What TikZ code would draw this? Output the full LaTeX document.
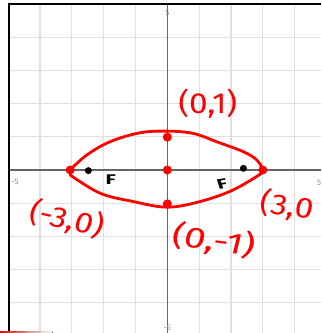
\documentclass[tikz,border=0pt]{standalone}
\usepackage{fontspec}
\setsansfont{Fira Sans}
\begin{document}
\begin{tikzpicture}[x=31.85pt, y=33.2pt,
    elGrid/.style={draw=black!12, line width=1.2pt},
    elAxis/.style={draw=black!60, line width=1.6pt},
    elFrame/.style={draw=black, line width=1.2pt},
    elTick/.style={text=black!45, font=\sffamily\fontsize{8}{8}\selectfont, inner sep=0pt},
    elCurve/.style={draw=red, line width=2.8pt, line cap=round, line join=round},
    elDot/.style={circle, fill=red, inner sep=0pt, minimum size=9pt},
    elFocus/.style={circle, fill=black, inner sep=0pt, minimum size=7pt},
    elLabel/.style={text=red, font=\sffamily\fontsize{29}{29}\selectfont, inner sep=0pt},
    elF/.style={text=black, font=\sffamily\bfseries\fontsize{14}{14}\selectfont, inner sep=0pt, xscale=1.5}]
    \useasboundingbox (-5.253,-4.910) rectangle (4.826,5.120);
    \clip (-5.253,-4.910) rectangle (4.826,5.120);

    % grid and axes
    \foreach \k in {-4,...,4} {
        \draw[elGrid] (\k,-4.91) -- (\k,5);
        \draw[elGrid] (-4.97,\k) -- (4.83,\k);
    }
    \draw[elAxis] (-4.97,0) -- (4.83,0);
    \draw[elAxis] (0,-4.91) -- (0,5);
    \draw[elFrame] (-4.97,-4.91) -- (-4.97,5) -- (4.83,5);
    \node[elTick] (tickTop) at (0,4.74) {5};
    \node[elTick] (tickLeft) at (-4.78,-0.36) {-5};
    \node[elTick] (tickRight) at (4.77,-0.39) {5};
    \node[elTick] (tickBottom) at (0,-4.76) {-5};

    % hand-drawn ellipse
    \draw[elCurve] plot[smooth, tension=0.6] coordinates {(-3.05,0) (-2.53,0.45) (-1.80,0.85) (-0.86,1.12) (0,1.17)
        (0.82,1.10) (1.55,0.85) (2.39,0.55) (2.81,0.30) (3.01,0)};
    \draw[elCurve] plot[smooth, tension=0.6] coordinates {(-3.05,-0.15) (-2.11,-0.70) (-1.07,-0.95) (0,-1.12)
        (1.03,-0.95) (2.07,-0.60) (2.96,-0.10)};

    \node[elDot] (vLeft) at (-3.05,0) {};
    \node[elDot] (vRight) at (3.0,0) {};
    \node[elDot] (cTop) at (0,0.99) {};
    \node[elDot] (center) at (0,0) {};
    \node[elDot] (cBottom) at (0,-1.02) {};
    \node[elFocus] (fLeft) at (-2.48,-0.02) {};
    \node[elFocus] (fRight) at (2.39,0.05) {};
    \node[elF] (fLeftLabel) at (-1.78,-0.30) {F};
    \node[elF, rotate=12] (fRightLabel) at (1.72,-0.41) {F};

    % point labels
    \node[elLabel, xscale=1.15] (lblTop) at (1.27,1.99) {(0,1)};
    \node[elLabel, xscale=1.15, rotate=-15] (lblLeft) at (-3.15,-1.48) {(-3,0)};
    \node[elLabel, xscale=1.15, rotate=-10, anchor=west] (lblRight) at (2.92,-0.96) {(3,0};
    \node[elLabel, xscale=1.35, rotate=-10] (lblBottom) at (1.47,-2.13) {(0,-1)};

    % stray stroke
    \fill[left color=red, right color=white] (-5.253,-4.91) -- (-5.253,-4.85) -- (-3.6,-4.88) -- (-3.6,-4.91) -- cycle;
\end{tikzpicture}
\end{document}
